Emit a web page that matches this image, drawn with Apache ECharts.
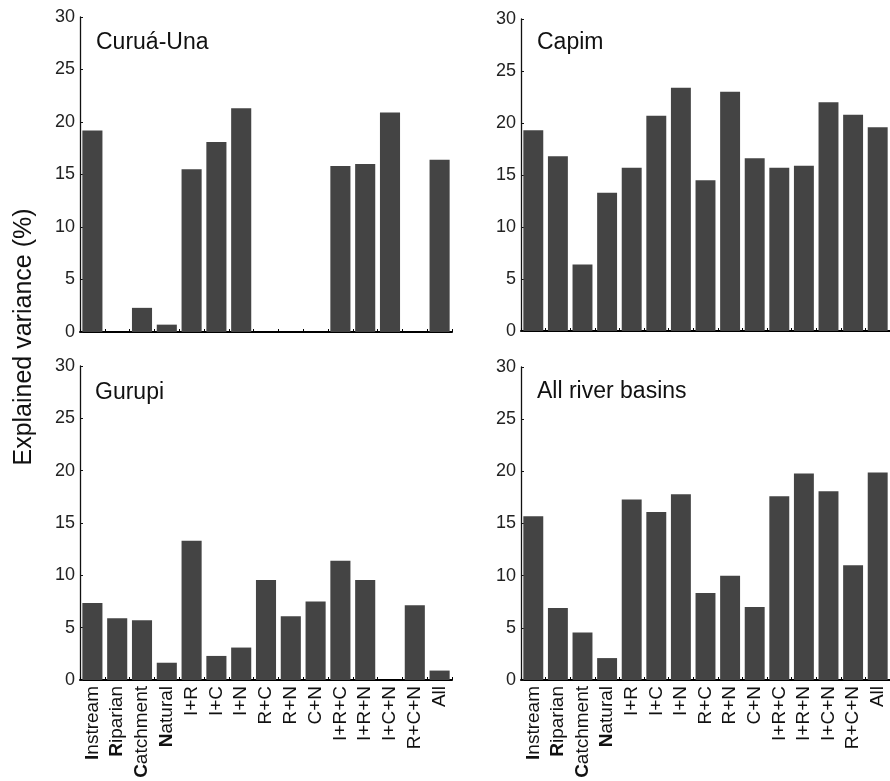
<!DOCTYPE html>
<html>
<head>
<meta charset="utf-8">
<script src="https://cdn.jsdelivr.net/npm/echarts@6/dist/echarts.min.js"></script>
<style>html,body{margin:0;padding:0;background:#fff;}#c{width:890px;height:781px;}</style>
</head>
<body>
<div id="c"></div>
<script>
var categories = ['Instream','Riparian','Catchment','Natural','I+R','I+C','I+N','R+C','R+N','C+N','I+R+C','I+R+N','I+C+N','R+C+N','All'];
var curuaUna  = [19.2, 0, 2.3, 0.7, 15.5, 18.1, 21.3, 0, 0, 0, 15.8, 16.0, 20.9, 0, 16.4];
var capim     = [19.3, 16.8, 6.4, 13.3, 15.7, 20.7, 23.4, 14.5, 23.0, 16.6, 15.7, 15.9, 22.0, 20.8, 19.6];
var gurupi    = [7.35, 5.9, 5.7, 1.65, 13.3, 2.3, 3.1, 9.55, 6.1, 7.5, 11.4, 9.55, 0, 7.15, 0.9];
var allBasins = [15.7, 6.9, 4.55, 2.1, 17.3, 16.1, 17.8, 8.35, 10.0, 7.0, 17.6, 19.8, 18.1, 11.0, 19.9];
var panelTitles = ['Curuá-Una', 'Capim', 'Gurupi', 'All river basins'];
var yTitle = 'Explained variance (%)';
var yMin = 0, yMax = 30, yStep = 5;

var FONT = "'Liberation Sans', Arial, Helvetica, sans-serif";
var seriesData = [curuaUna, capim, gurupi, allBasins];
var grids = [
  {left: 80, top: 17, width: 372, height: 315},
  {left: 521, top: 19, width: 371, height: 312},
  {left: 80, top: 366, width: 372, height: 314},
  {left: 521, top: 367, width: 371, height: 313}
];
var titlePos = [
  {left: 96, top: 31},
  {left: 537, top: 31},
  {left: 95, top: 381},
  {left: 537, top: 380}
];

function labelFmt(v) {
  if (['Instream','Riparian','Catchment','Natural'].indexOf(v) >= 0) {
    return '{b|' + v.charAt(0) + '}{n|' + v.slice(1) + '}';
  }
  return '{n|' + v + '}';
}

var xAxes = [], yAxes = [], series = [], titles = [];
for (var i = 0; i < 4; i++) {
  var bottom = i >= 2;
  xAxes.push({
    type: 'category', gridIndex: i, data: categories, boundaryGap: true,
    axisLine: {show: true, lineStyle: {color: '#000', width: 2}},
    axisTick: {show: true, inside: true, length: 3, interval: 0, lineStyle: {color: '#000', width: 1}},
    axisLabel: {
      show: bottom, rotate: 90, interval: 0, margin: 6,
      formatter: labelFmt,
      rich: {
        b: {fontFamily: FONT, fontSize: 19, fontWeight: 'bold', color: '#111'},
        n: {fontFamily: FONT, fontSize: 19, color: '#111'}
      }
    },
    splitLine: {show: false}
  });
  yAxes.push({
    type: 'value', gridIndex: i, min: yMin, max: yMax, interval: yStep,
    axisLine: {show: true, lineStyle: {color: '#111', width: 1.3}},
    axisTick: {show: true, inside: true, length: 3, lineStyle: {color: '#111', width: 1}},
    axisLabel: {fontFamily: FONT, fontSize: 18, color: '#222', margin: 5},
    splitLine: {show: false}
  });
  series.push({
    type: 'bar', xAxisIndex: i, yAxisIndex: i, data: seriesData[i],
    barCategoryGap: '19%',
    itemStyle: {color: '#444444'},
    silent: true, animation: false
  });
  titles.push({
    text: panelTitles[i], left: titlePos[i].left, top: titlePos[i].top, padding: 0,
    textStyle: {fontFamily: FONT, fontSize: 23, fontWeight: 'normal', color: '#111'}
  });
}

var chart = echarts.init(document.getElementById('c'), null, {renderer: 'canvas'});
chart.setOption({
  backgroundColor: '#fff',
  animation: false,
  title: titles,
  grid: grids,
  xAxis: xAxes,
  yAxis: yAxes,
  series: series,
  graphic: [{
    type: 'text', x: 24, y: 337, rotation: Math.PI / 2,
    style: {text: yTitle, fontFamily: FONT, fontSize: 25, fill: '#111', textAlign: 'center', textVerticalAlign: 'middle'}
  }]
});
</script>
</body>
</html>
